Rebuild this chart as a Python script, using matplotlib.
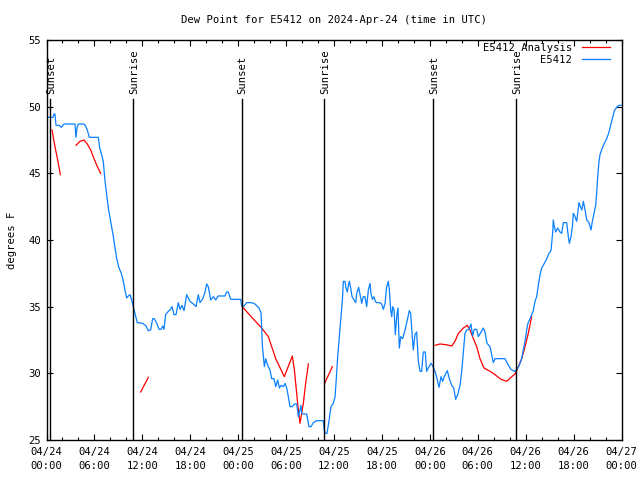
import matplotlib
matplotlib.use("Agg")
import matplotlib.pyplot as plt
import numpy as np

# hours since 2024-04-24 00:00 UTC
station_hours = [
    0.19, 0.81, 0.94, 1.06, 1.19, 1.57, 1.85, 2.19, 3.57, 3.69, 3.82, 3.98, 4.61, 4.86,
    5.11, 5.36, 6.49, 6.66, 6.86, 7.11, 7.33, 7.54, 7.74, 8.03, 8.33, 8.58, 8.79, 9.08,
    9.37, 9.62, 9.87, 10.04, 10.25, 10.46, 10.62, 10.87, 11.0, 11.37, 12.04, 12.46, 12.75,
    13.04, 13.29, 13.5, 13.8, 14.09, 14.34, 14.55, 14.71, 14.92, 15.17, 15.46, 15.72,
    15.97, 16.22, 16.5, 16.72, 16.97, 17.22, 17.55, 17.97, 18.39, 18.72, 19.01, 19.22,
    19.56, 19.81, 20.06, 20.26, 20.56, 20.89, 21.19, 21.47, 22.35, 22.56, 22.77, 23.06,
    24.32, 24.44, 24.73, 25.07, 25.7, 26.11, 26.61, 26.86, 27.03, 27.28, 27.45, 27.61,
    27.78, 27.99, 28.2, 28.49, 28.7, 28.95, 29.16, 29.37, 29.66, 29.87, 30.08, 30.28,
    30.49, 30.78, 31.03, 31.33, 31.54, 31.74, 31.87, 31.95, 32.16, 32.58, 32.87, 33.12,
    33.41, 33.84, 34.66, 34.79, 34.87, 35.12, 35.37, 35.62, 35.92, 36.13, 36.25, 36.46,
    36.67, 36.88, 37.05, 37.17, 37.38, 37.5, 37.67, 37.8, 37.92, 38.09, 38.26, 38.51,
    38.72, 38.84, 39.09, 39.26, 39.47, 39.67, 39.88, 40.09, 40.3, 40.51, 40.63, 40.8,
    41.01, 41.17, 41.35, 41.76, 41.97, 42.18, 42.39, 42.6, 42.8, 42.93, 43.1, 43.23,
    43.35, 43.52, 43.68, 43.85, 44.01, 44.18, 44.35, 44.6, 44.89, 45.18, 45.43, 45.6,
    45.77, 45.93, 46.14, 46.35, 46.56, 46.77, 46.98, 47.18, 47.43, 47.6, 47.8, 48.15,
    48.32, 48.65, 48.9, 49.15, 49.4, 49.61, 49.81, 50.19, 50.44, 50.74, 50.99, 51.24,
    51.49, 51.78, 51.99, 52.19, 52.4, 52.62, 52.9, 53.15, 53.36, 53.56, 53.87, 54.07,
    54.32, 54.7, 54.91, 55.16, 55.54, 55.75, 55.95, 56.16, 57.41, 57.75, 58.16, 58.57,
    58.87, 59.2, 59.5, 59.7, 59.92, 60.13, 60.26, 60.54, 60.96, 61.17, 61.38, 61.58,
    61.8, 62.01, 62.34, 62.64, 62.92, 63.17, 63.26, 63.39, 63.46, 63.59, 63.76, 64.01,
    64.3, 64.51, 64.72, 65.14, 65.34, 65.47, 65.68, 65.85, 65.97, 66.18, 66.39, 66.68,
    66.85, 67.03, 67.23, 67.45, 67.65, 67.93, 68.18, 68.35, 68.52, 68.77, 68.9, 69.02,
    69.18, 69.31, 69.6, 69.85, 70.15, 70.44, 70.69, 70.9, 71.1, 71.4, 71.69, 71.94,
]
station_dewpt = [
    49.2, 49.2, 49.45, 49.45, 48.6, 48.6, 48.45, 48.7, 48.7, 47.7, 48.4, 48.7, 48.7, 48.6,
    48.25, 47.7, 47.7, 46.9, 46.5, 45.9, 44.4, 43.4, 42.4, 41.4, 40.4, 39.4, 38.6, 37.9,
    37.5, 36.9, 36.1, 35.65, 35.8, 35.9, 35.6, 35.0, 34.7, 33.8, 33.75, 33.55, 33.2,
    33.25, 34.1, 34.1, 33.75, 33.3, 33.3, 33.55, 33.3, 34.4, 34.6, 34.75, 35.0,
    34.4, 34.4, 35.3, 34.8, 35.1, 34.7, 35.9, 35.4, 35.2, 35.0, 35.9, 35.3,
    35.6, 36.0, 36.7, 36.5, 35.5, 35.75, 35.5, 35.8, 35.8, 36.1, 36.1, 35.55,
    35.55, 35.05, 35.05, 35.3, 35.3, 35.2, 34.9, 34.55, 32.1, 30.5, 31.1, 30.75,
    30.5, 30.25, 29.6, 29.6, 29.0, 29.5, 28.9, 29.1, 29.0, 29.25, 28.9, 28.25,
    27.5, 27.5, 27.7, 27.7, 26.75, 27.25, 27.6, 27.0, 26.95, 26.95, 26.0, 26.0,
    26.3, 26.45, 26.45, 25.75, 25.5, 25.5, 26.4, 27.5, 27.75, 28.25, 29.25, 31.25,
    32.75, 34.25, 35.5, 36.9, 36.9, 36.4, 36.1, 36.6, 36.9, 36.4, 35.75, 35.5,
    35.3, 36.0, 36.45, 35.9, 35.25, 35.75, 35.75, 35.0, 36.25, 36.75, 36.0, 35.55,
    35.75, 35.4, 35.3, 35.3, 35.2, 34.8, 35.25, 36.5, 36.9, 36.25, 34.75, 34.25,
    35.0, 34.75, 32.9, 34.25, 34.9, 31.9, 32.75, 32.6, 33.25, 34.0, 34.7, 34.5,
    33.0, 31.75, 32.9, 33.1, 30.9, 30.15, 30.15, 31.6, 31.6, 30.15, 30.4, 30.75,
    30.6, 30.15, 29.6, 28.95, 29.75, 29.4, 29.75, 30.2, 29.6, 29.1, 28.9, 28.05,
    28.4, 29.1, 30.15, 31.5, 33.0, 33.25, 33.3, 33.7, 32.8, 33.3, 33.3, 32.75,
    33.0, 33.4, 33.1, 32.25, 32.0, 31.4, 30.8, 31.1, 31.1, 30.7, 30.3, 30.15,
    30.25, 30.6, 31.1, 31.75, 32.4, 33.25, 33.7, 34.1, 34.7, 35.4, 35.75, 36.6,
    37.4, 37.9, 38.25, 38.6, 39.0, 39.2, 39.75, 40.6, 41.5, 41.0, 40.6, 40.9,
    40.6, 40.5, 41.3, 41.3, 40.25, 39.75, 40.25, 41.0, 42.0, 41.75, 41.4, 42.8,
    42.5, 42.25, 42.9, 42.2, 41.5, 41.3, 40.75, 41.4, 41.9, 42.6, 43.6, 44.75,
    45.9, 46.4, 46.9, 47.25, 47.6, 48.1, 48.7, 49.2, 49.7, 49.95, 50.1, 50.1,
]

# analysis series, nan marks a gap
analysis_hours = [
    0.69, 0.94, 1.23, 1.48, 1.73, np.nan,
    3.69, 4.19, 4.70, 5.11, 5.53, 5.95, 6.37, 6.78, np.nan,
    11.79, 12.75, np.nan,
    24.52, 25.70, 26.94, 27.78, 28.70, 29.78, 30.78, 31.03, 31.45, 31.74, 32.16, 32.45,
    32.79, np.nan,
    34.79, 35.79, np.nan,
    48.65, 49.27, 50.00, 50.74, 51.15, 51.57, 52.19, 52.69, 53.03, 53.45, 53.87, 54.28,
    54.78, 55.54, 56.16, 56.91, 57.63, 58.16, 58.67, 59.08, 59.50, 59.92, 60.33, 60.75,
]
analysis_dewpt = [
    48.25, 47.4, 46.5, 45.75, 44.9, np.nan,
    47.1, 47.4, 47.5, 47.2, 46.75, 46.1, 45.5, 45.0, np.nan,
    28.6, 29.7, np.nan,
    35.0, 34.2, 33.4, 32.75, 31.1, 29.75, 31.3, 30.3, 27.75, 26.25, 27.75, 29.25,
    30.7, np.nan,
    29.2, 30.5, np.nan,
    32.1, 32.2, 32.15, 32.05, 32.4, 33.0, 33.4, 33.6, 33.25, 32.6, 32.0, 31.1,
    30.4, 30.15, 29.9, 29.55, 29.4, 29.7, 29.95, 30.5, 31.1, 32.0, 33.0, 34.25,
]

event_hours = [0.46, 10.87, 24.42, 34.8, 48.4, 58.8]
event_names = ["Sunset", "Sunrise", "Sunset", "Sunrise", "Sunset", "Sunrise"]

tick_hours = [0, 6, 12, 18, 24, 30, 36, 42, 48, 54, 60, 66, 72]
tick_labels = [
    "04/24\n00:00", "04/24\n06:00", "04/24\n12:00", "04/24\n18:00",
    "04/25\n00:00", "04/25\n06:00", "04/25\n12:00", "04/25\n18:00",
    "04/26\n00:00", "04/26\n06:00", "04/26\n12:00", "04/26\n18:00",
    "04/27\n00:00",
]

plt.rcParams["font.family"] = ["DejaVu Sans Mono"]
plt.rcParams["font.size"] = 7.6

fig = plt.figure(figsize=(6.4, 4.8), dpi=100)
ax = fig.add_axes([46.5 / 640, 40 / 480, 575 / 640, 400 / 480])

ax.plot(analysis_hours, analysis_dewpt, color="#ff0000", linewidth=0.9, label="E5412 Analysis")
ax.plot(station_hours, station_dewpt, color="#0a80ff", linewidth=0.9, label="E5412")

for hour, name in zip(event_hours, event_names):
    ax.axvline(hour, ymin=0, ymax=0.8525, color="k", linewidth=1.0)
    ax.text(hour + 0.1, 0.866, name, transform=ax.get_xaxis_transform(),
            rotation=90, ha="center", va="bottom")

ax.set_xlim(0, 72)
ax.set_ylim(25, 55)
ax.set_xticks(tick_hours)
ax.set_xticklabels(tick_labels, linespacing=1.55)
ax.set_xticks(np.arange(0, 73, 2), minor=True)
ax.set_yticks([25, 30, 35, 40, 45, 50, 55])

for spine in ax.spines.values():
    spine.set_linewidth(1.0)
ax.tick_params(which="both", direction="in", top=True, right=True, width=0.8)
ax.tick_params(which="major", length=4.0, pad=4)
ax.tick_params(which="minor", length=2.2)
ax.tick_params(axis="x", pad=5)

ax.set_ylabel("degrees F", labelpad=8)
fig.text(334 / 640, 1 - 20 / 480, "Dew Point for E5412 on 2024-Apr-24 (time in UTC)",
         ha="center", va="center")

ax.legend(loc="upper right", bbox_to_anchor=(610 / 640, 1 - 43 / 480),
          bbox_transform=fig.transFigure, frameon=False, markerfirst=False,
          handlelength=2.7, handletextpad=0.9, labelspacing=0.2,
          borderpad=0, borderaxespad=0)

fig.savefig("out.png", dpi=100)
